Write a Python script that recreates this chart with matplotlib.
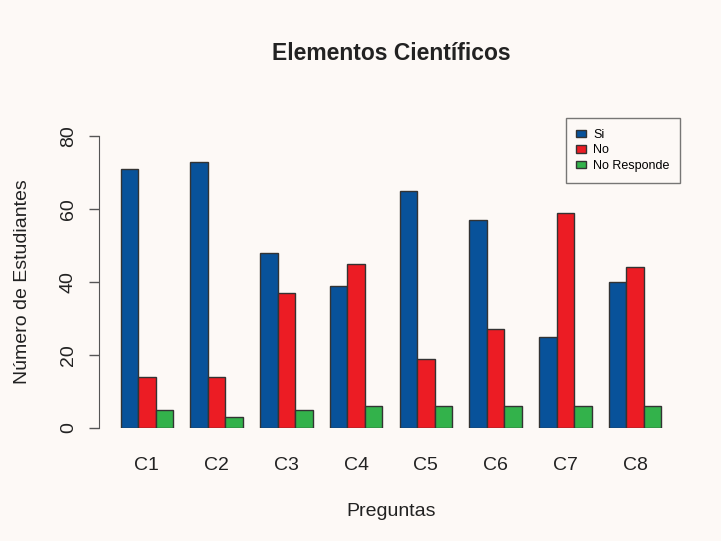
import matplotlib.pyplot as plt
import numpy as np

plt.rcParams["font.family"] = ["Liberation Sans", "DejaVu Sans"]

preguntas = ["C1", "C2", "C3", "C4", "C5", "C6", "C7", "C8"]
si = [71, 73, 48, 39, 65, 57, 25, 40]
no = [14, 14, 37, 45, 19, 27, 59, 44]
no_responde = [5, 3, 5, 6, 6, 6, 6, 6]

series = [("Si", si, "#08529A"), ("No", no, "#EC1C24"), ("No Responde", no_responde, "#33B24B")]
bg = "#FDF9F6"

fig = plt.figure(figsize=(7.21, 5.41), dpi=100, facecolor=bg)
ax = fig.add_axes([99/721, 1 - 428/541, 584/721, 292/541], facecolor=bg)

# R-style beside barplot: groups of 3 unit-width bars, one unit gap
starts = 1 + 4 * np.arange(len(preguntas))
for k, (name, vals, col) in enumerate(series):
    ax.bar(starts + k, vals, width=1, align="edge", color=col,
           edgecolor="#333333", linewidth=1, label=name)

ax.set_xlim(-0.24, 33.24)
ax.set_ylim(0, 80)
ax.set_xticks(starts + 1.5)
ax.set_xticklabels(preguntas, fontsize=14, color="#222222")
ax.tick_params(axis="x", length=0, pad=21)
ax.set_yticks([0, 20, 40, 60, 80])
ax.set_yticklabels(["0", "20", "40", "60", "80"], rotation=90, va="center",
                   fontsize=14, color="#222222")
ax.tick_params(axis="y", length=7, width=1, color="#555555", pad=9)

for s in ["top", "right", "bottom"]:
    ax.spines[s].set_visible(False)
ax.spines["left"].set_bounds(0, 80)
ax.spines["left"].set_color("#555555")

ax.set_xlabel("Preguntas", fontsize=14, color="#222222", labelpad=21)
ax.set_ylabel("Número de Estudiantes", fontsize=14, color="#222222", labelpad=21)
fig.text(391/721, 1 - 53/541, "Elementos Científicos", ha="center", va="center",
         fontsize=16.5, fontweight="bold", color="#222222")

leg = ax.legend(loc="upper right", bbox_to_anchor=(680/721, 1 - 118/541),
                bbox_transform=fig.transFigure, fontsize=9, frameon=True,
                fancybox=False, edgecolor="#555555", handlelength=0.8,
                handleheight=0.5, labelspacing=0.3, borderpad=0.85,
                handletextpad=0.55, borderaxespad=0)
leg.get_frame().set_facecolor(bg)
leg.get_frame().set_linewidth(1)

fig.savefig("out.png", dpi=100, facecolor=bg)
